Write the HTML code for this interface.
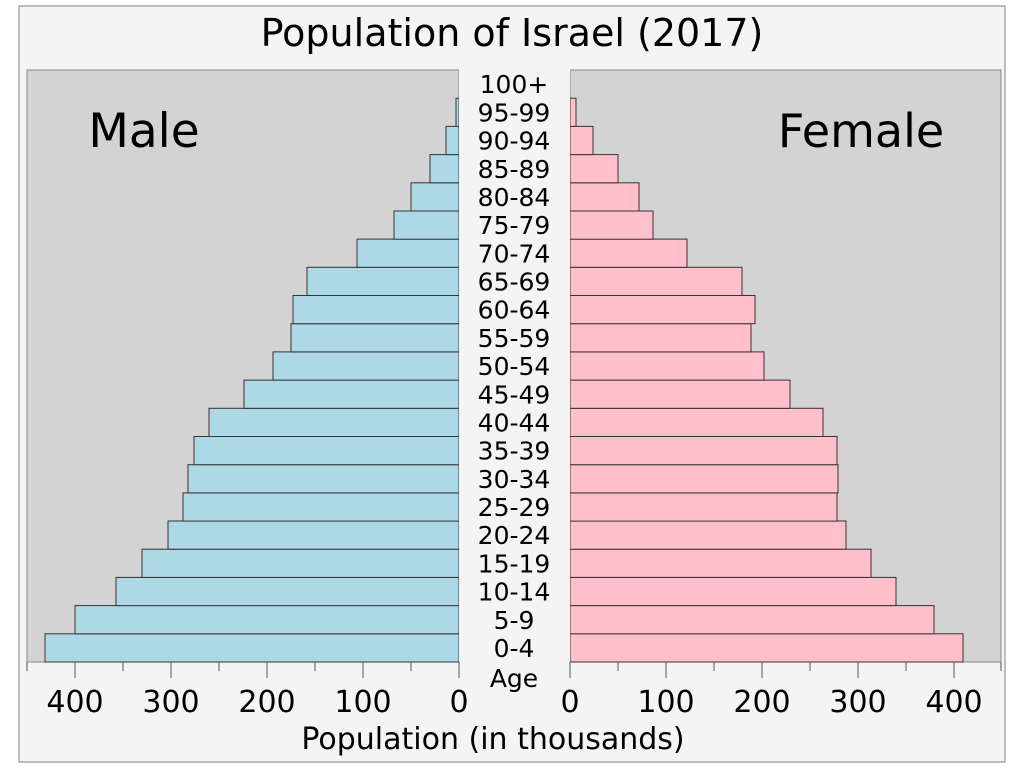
<!DOCTYPE html>
<html><head><meta charset="utf-8"><style>body{margin:0;background:#fff}svg{display:block}text{font-family:"DejaVu Sans","Liberation Sans",sans-serif;fill:#000}</style></head><body>
<svg width="1024" height="768" xmlns="http://www.w3.org/2000/svg">
<rect x="19" y="6" width="986" height="756" fill="#f4f4f4" stroke="#aaa" stroke-width="1.5"/>
<text x="512" y="46" font-size="38" text-anchor="middle">Population of Israel (2017)</text>
<rect x="27" y="70" width="432" height="592" fill="#d3d3d3" stroke="#888"/>
<rect x="570" y="70" width="431" height="592" fill="#d3d3d3" stroke="#888"/>
<text x="144" y="147" font-size="47" text-anchor="middle">Male</text>
<text x="861" y="147" font-size="46" text-anchor="middle">Female</text>
<g fill="#add8e6" stroke="#333" stroke-width="1">
<rect x="45" y="633.8" width="414" height="28.2"/>
<rect x="75" y="605.6" width="384" height="28.2"/>
<rect x="116" y="577.4" width="343" height="28.2"/>
<rect x="142" y="549.2" width="317" height="28.2"/>
<rect x="168" y="521.0" width="291" height="28.2"/>
<rect x="183" y="492.9" width="276" height="28.2"/>
<rect x="188" y="464.7" width="271" height="28.2"/>
<rect x="194" y="436.5" width="265" height="28.2"/>
<rect x="209" y="408.3" width="250" height="28.2"/>
<rect x="244" y="380.1" width="215" height="28.2"/>
<rect x="273" y="351.9" width="186" height="28.2"/>
<rect x="291" y="323.7" width="168" height="28.2"/>
<rect x="293" y="295.5" width="166" height="28.2"/>
<rect x="307" y="267.3" width="152" height="28.2"/>
<rect x="357" y="239.1" width="102" height="28.2"/>
<rect x="394" y="211.0" width="65" height="28.2"/>
<rect x="411" y="182.8" width="48" height="28.2"/>
<rect x="430" y="154.6" width="29" height="28.2"/>
<rect x="446" y="126.4" width="13" height="28.2"/>
<rect x="456" y="98.2" width="3" height="28.2"/>
</g>
<g fill="#ffc0cb" stroke="#333" stroke-width="1">
<rect x="570" y="633.8" width="393" height="28.2"/>
<rect x="570" y="605.6" width="364" height="28.2"/>
<rect x="570" y="577.4" width="326" height="28.2"/>
<rect x="570" y="549.2" width="301" height="28.2"/>
<rect x="570" y="521.0" width="276" height="28.2"/>
<rect x="570" y="492.9" width="267" height="28.2"/>
<rect x="570" y="464.7" width="268" height="28.2"/>
<rect x="570" y="436.5" width="267" height="28.2"/>
<rect x="570" y="408.3" width="253" height="28.2"/>
<rect x="570" y="380.1" width="220" height="28.2"/>
<rect x="570" y="351.9" width="194" height="28.2"/>
<rect x="570" y="323.7" width="181" height="28.2"/>
<rect x="570" y="295.5" width="185" height="28.2"/>
<rect x="570" y="267.3" width="172" height="28.2"/>
<rect x="570" y="239.1" width="117" height="28.2"/>
<rect x="570" y="211.0" width="83" height="28.2"/>
<rect x="570" y="182.8" width="69" height="28.2"/>
<rect x="570" y="154.6" width="48" height="28.2"/>
<rect x="570" y="126.4" width="23" height="28.2"/>
<rect x="570" y="98.2" width="6" height="28.2"/>
</g>
<rect x="459" y="62" width="111" height="640" fill="#f4f4f4"/>
<g font-size="25" text-anchor="middle">
<text x="514" y="657">0-4</text>
<text x="514" y="628.8">5-9</text>
<text x="514" y="600.6">10-14</text>
<text x="514" y="572.4">15-19</text>
<text x="514" y="544.2">20-24</text>
<text x="514" y="516.1">25-29</text>
<text x="514" y="487.9">30-34</text>
<text x="514" y="459.7">35-39</text>
<text x="514" y="431.5">40-44</text>
<text x="514" y="403.3">45-49</text>
<text x="514" y="375.1">50-54</text>
<text x="514" y="346.9">55-59</text>
<text x="514" y="318.7">60-64</text>
<text x="514" y="290.5">65-69</text>
<text x="514" y="262.3">70-74</text>
<text x="514" y="234.2">75-79</text>
<text x="514" y="206.0">80-84</text>
<text x="514" y="177.8">85-89</text>
<text x="514" y="149.6">90-94</text>
<text x="514" y="121.4">95-99</text>
<text x="514" y="93.2">100+</text>
<text x="514" y="687">Age</text>
</g>
<g stroke="#555" stroke-width="1">
<line x1="459" y1="662" x2="459" y2="678"/><line x1="411" y1="662" x2="411" y2="671"/>
<line x1="363" y1="662" x2="363" y2="678"/><line x1="315" y1="662" x2="315" y2="671"/>
<line x1="267" y1="662" x2="267" y2="678"/><line x1="219" y1="662" x2="219" y2="671"/>
<line x1="171" y1="662" x2="171" y2="678"/><line x1="123" y1="662" x2="123" y2="671"/>
<line x1="75" y1="662" x2="75" y2="678"/><line x1="27" y1="662" x2="27" y2="671"/>
<line x1="570" y1="662" x2="570" y2="678"/><line x1="618" y1="662" x2="618" y2="671"/>
<line x1="666" y1="662" x2="666" y2="678"/><line x1="714" y1="662" x2="714" y2="671"/>
<line x1="762" y1="662" x2="762" y2="678"/><line x1="810" y1="662" x2="810" y2="671"/>
<line x1="858" y1="662" x2="858" y2="678"/><line x1="906" y1="662" x2="906" y2="671"/>
<line x1="954" y1="662" x2="954" y2="678"/><line x1="1001" y1="662" x2="1001" y2="671"/>
</g>
<g font-size="30" text-anchor="middle">
<text x="459" y="712">0</text><text x="363" y="712">100</text><text x="267" y="712">200</text><text x="171" y="712">300</text><text x="75" y="712">400</text>
<text x="570" y="712">0</text><text x="666" y="712">100</text><text x="762" y="712">200</text><text x="858" y="712">300</text><text x="954" y="712">400</text>
</g>
<text x="493" y="749" font-size="30" text-anchor="middle">Population (in thousands)</text>
</svg>
</body></html>
